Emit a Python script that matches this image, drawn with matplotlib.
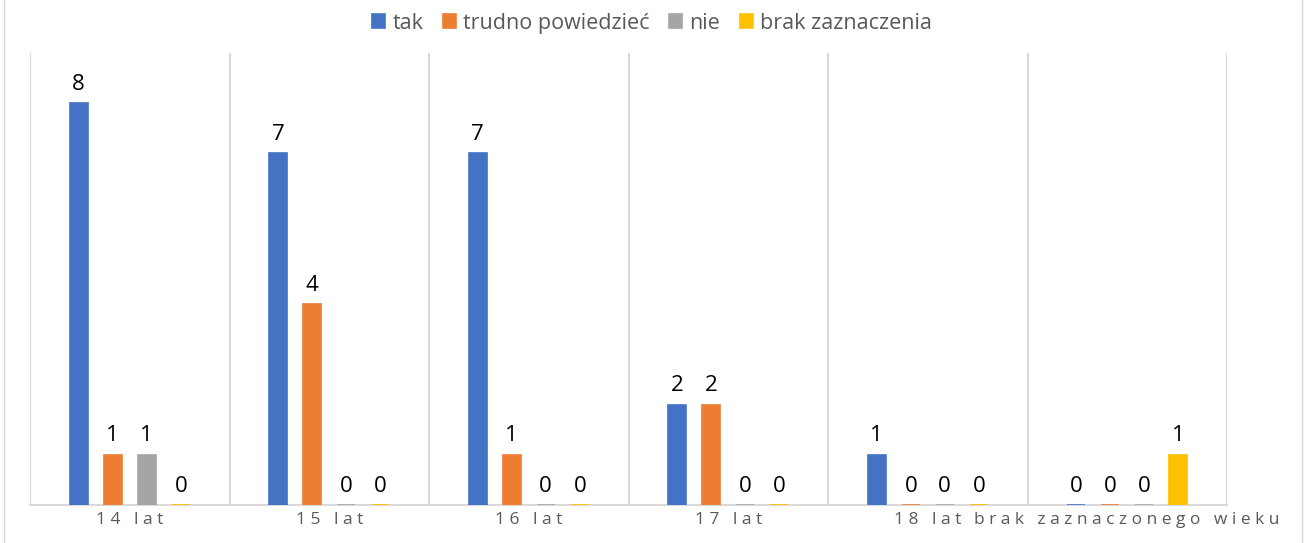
import matplotlib.pyplot as plt
from matplotlib.patches import Rectangle
import numpy as np

plt.rcParams['font.family'] = ['Open Sans', 'DejaVu Sans']

groups = ['14 lat', '15 lat', '16 lat', '17 lat', '18 lat', 'brak zaznaczonego wieku']
series = ['tak', 'trudno powiedzieć', 'nie', 'brak zaznaczenia']
tak = [8, 7, 7, 2, 1, 0]
trudno = [1, 4, 1, 2, 0, 0]
nie = [1, 0, 0, 0, 0, 0]
brak = [0, 0, 0, 0, 0, 1]
colors = ['#4472C4', '#ED7D31', '#A5A5A5', '#FFC000']

fig = plt.figure(figsize=(13.09, 5.43), dpi=100)
ax = fig.add_axes([30/1309, 1-505/543, 1197/1309, 452/543])

x = np.arange(len(groups))
width = 0.09
offsets = [-0.256, -0.085, 0.085, 0.256]
for vals, off, c, name in zip([tak, trudno, nie, brak], offsets, colors, series):
    bars = ax.bar(x + off, vals, width, color=c, edgecolor=c, linewidth=1.2, label=name, zorder=3)
    for b, v in zip(bars, vals):
        ax.annotate(str(v), (b.get_x() + b.get_width()/2, v), xytext=(0, 6),
                    textcoords='offset points', ha='center', va='bottom',
                    fontsize=16, color='black')

ax.set_xlim(-0.5, len(groups) - 0.5)
ax.set_ylim(0, 9)
ax.set_yticks([])
ax.set_xticks(x)
# spread letters like the spreadsheet axis labels
ax.set_xticklabels([' '.join(g) for g in groups], fontsize=12.5, color='#595959')
ax.tick_params(axis='x', length=0, pad=5)
ax.set_xticks(np.arange(-0.5, len(groups)), minor=True)
ax.tick_params(axis='x', which='minor', length=0)
ax.grid(axis='x', which='minor', color='#d9d9d9', linewidth=1.5, zorder=0)
for s in ['top', 'left', 'right']:
    ax.spines[s].set_visible(False)
ax.spines['bottom'].set_color('#d9d9d9')
ax.spines['bottom'].set_linewidth(1.5)

fig.legend(loc='upper center', bbox_to_anchor=(0.498, 1.012), ncol=4, frameon=False,
           fontsize=15.5, labelcolor='#595959', handlelength=0.6, handleheight=0.6,
           handletextpad=0.35, columnspacing=0.9)

fig.patches.append(Rectangle((4/1309, -0.01), 1298/1309, 1.02, transform=fig.transFigure,
                             fill=False, edgecolor='#d9d9d9', linewidth=1))

fig.savefig('out.png', dpi=100)
